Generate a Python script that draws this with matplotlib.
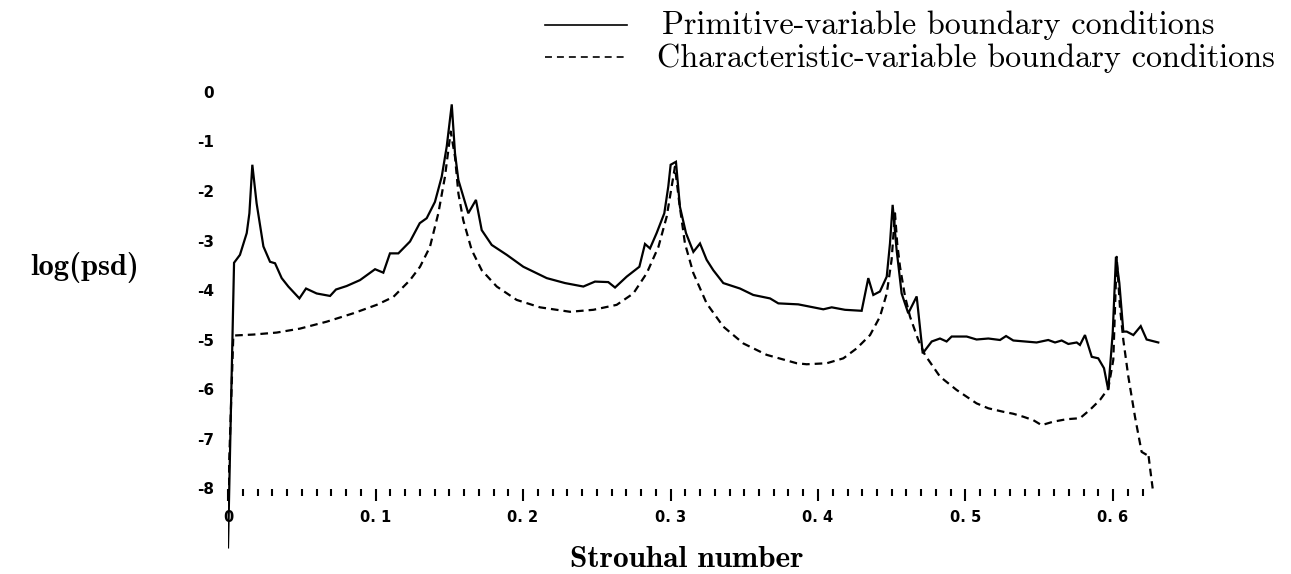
import numpy as np
import matplotlib
matplotlib.use('Agg')
import matplotlib.pyplot as plt

plt.rcParams.update({
    'lines.scale_dashes': False,
    'axes.unicode_minus': False,
})

# Primitive-variable boundary conditions (solid)
prim_x = [0.0, 0.0041, 0.0081, 0.0127, 0.0145, 0.0165, 0.0194, 0.024, 0.0285, 0.0319,
          0.0364, 0.0409, 0.0484, 0.0529, 0.0601, 0.0692, 0.0732, 0.0804, 0.0895, 0.0997,
          0.1053, 0.1098, 0.1155, 0.1234, 0.130, 0.1347, 0.1403, 0.1449, 0.1483, 0.1517,
          0.1539, 0.1562, 0.1595, 0.1629, 0.1681, 0.172, 0.1788, 0.189, 0.2002, 0.2161,
          0.2285, 0.2409, 0.2488, 0.2578, 0.2624, 0.2703, 0.2789, 0.2827, 0.2861, 0.2906,
          0.2958, 0.2985, 0.3001, 0.3037, 0.3064, 0.3105, 0.3155, 0.320, 0.3245, 0.329,
          0.3358, 0.3471, 0.3561, 0.3675, 0.3731, 0.3866, 0.4036, 0.4093, 0.4183, 0.4296,
          0.4341, 0.4375, 0.442, 0.4466, 0.4488, 0.4506, 0.4533, 0.4567, 0.4612, 0.4669,
          0.471, 0.4771, 0.4827, 0.4872, 0.4906, 0.5008, 0.5075, 0.5155, 0.5234, 0.5275,
          0.5324, 0.5482, 0.5561, 0.5607, 0.5652, 0.5697, 0.5754, 0.5776, 0.581, 0.5856,
          0.590, 0.5939, 0.5968, 0.5998, 0.602, 0.6043, 0.607, 0.6093, 0.6138, 0.6188,
          0.6228, 0.6307]
prim_y = [-9.2, -3.45, -3.29, -2.85, -2.45, -1.47, -2.25, -3.12, -3.43, -3.46,
          -3.76, -3.93, -4.17, -3.97, -4.07, -4.12, -3.99, -3.92, -3.80, -3.58,
          -3.65, -3.26, -3.26, -3.02, -2.65, -2.55, -2.22, -1.71, -1.10, -0.25,
          -1.24, -1.78, -2.11, -2.45, -2.18, -2.79, -3.09, -3.29, -3.53, -3.76,
          -3.86, -3.93, -3.83, -3.84, -3.95, -3.73, -3.53, -3.07, -3.16, -2.85,
          -2.45, -1.91, -1.47, -1.41, -2.32, -2.85, -3.23, -3.06, -3.39, -3.60,
          -3.86, -3.97, -4.10, -4.17, -4.27, -4.29, -4.39, -4.35, -4.40, -4.42,
          -3.76, -4.10, -4.03, -3.73, -3.06, -2.28, -3.19, -4.07, -4.47, -4.13,
          -5.28, -5.04, -4.98, -5.04, -4.94, -4.94, -5.00, -4.98, -5.01, -4.93,
          -5.02, -5.06, -5.01, -5.06, -5.02, -5.09, -5.06, -5.11, -4.91, -5.35,
          -5.38, -5.58, -6.02, -4.87, -3.33, -3.86, -4.84, -4.84, -4.91, -4.73,
          -5.00, -5.06]

# Characteristic-variable boundary conditions (dashed)
char_x = [0.0, 0.0036, 0.0172, 0.033, 0.0488, 0.0669, 0.085, 0.1008, 0.1121, 0.1234,
          0.1302, 0.1369, 0.1426, 0.1471, 0.1494, 0.151, 0.1539, 0.1562, 0.1595, 0.1652,
          0.172, 0.1822, 0.1957, 0.2115, 0.2319, 0.2477, 0.2635, 0.2748, 0.2839, 0.2918,
          0.2974, 0.3008, 0.303, 0.306, 0.3098, 0.3155, 0.3245, 0.3358, 0.3494, 0.3652,
          0.3856, 0.3923, 0.4059, 0.4172, 0.4262, 0.4353, 0.442, 0.4466, 0.4499, 0.4522,
          0.4537, 0.4556, 0.459, 0.4624, 0.468, 0.4725, 0.4827, 0.494, 0.5075, 0.5155,
          0.5256, 0.5324, 0.5392, 0.546, 0.5516, 0.5595, 0.5686, 0.5776, 0.5844, 0.5912,
          0.5968, 0.6002, 0.6025, 0.6047, 0.607, 0.6104, 0.6149, 0.6194, 0.6228, 0.6239,
          0.625, 0.6269]
char_y = [-8.2, -4.92, -4.90, -4.86, -4.78, -4.64, -4.47, -4.30, -4.14, -3.80,
          -3.53, -3.13, -2.45, -1.71, -1.17, -0.80, -1.31, -2.05, -2.59, -3.19,
          -3.60, -3.93, -4.20, -4.35, -4.44, -4.40, -4.30, -4.07, -3.66, -3.13,
          -2.52, -1.91, -1.51, -2.25, -3.06, -3.66, -4.27, -4.74, -5.08, -5.31,
          -5.48, -5.50, -5.48, -5.38, -5.18, -4.91, -4.54, -4.07, -3.39, -2.45,
          -3.06, -3.53, -4.13, -4.54, -5.01, -5.31, -5.75, -6.02, -6.29, -6.39,
          -6.46, -6.50, -6.56, -6.63, -6.73, -6.66, -6.61, -6.59, -6.42, -6.22,
          -5.99, -5.41, -3.33, -4.34, -5.01, -5.75, -6.56, -7.27, -7.33, -7.30,
          -7.57, -8.01]

y_ticks = [0, -1, -2, -3, -4, -5, -6, -7, -8]
y_ticklabels = ['0', '-1', '-2', '-3', '-4', '-5', '-6', '-7', '-8']
x_ticks = [0.0, 0.1, 0.2, 0.3, 0.4, 0.5, 0.6]
x_ticklabels = ['0', '0. 1', '0. 2', '0. 3', '0. 4', '0. 5', '0. 6']
x_minor = np.arange(0.01, 0.625, 0.01)

W, H = 1291, 574
fig = plt.figure(figsize=(W / 100, H / 100), dpi=100)
ax = fig.add_axes([228 / W, 0.0377, 958.75 / W, 0.8279])

ax.plot(prim_x, prim_y, color='black', lw=1.6, solid_joinstyle='miter')
ax.plot(char_x, char_y, color='black', lw=1.6, dashes=(5.5, 3.6))

ax.set_xlim(0, 0.65)
ax.set_ylim(-9.3, 0.3)

for s in ['top', 'right', 'left']:
    ax.spines[s].set_visible(False)
ax.spines['bottom'].set_position(('data', -8.03))
ax.spines['bottom'].set_visible(False)

ax.set_xticks(x_ticks)
ax.set_xticklabels(x_ticklabels, fontfamily='DejaVu Sans', fontweight='bold', fontsize=10.5)
ax.set_xticks(x_minor, minor=True)
ax.tick_params(axis='x', which='major', direction='out', length=8.5, width=1.5, pad=6)
ax.tick_params(axis='x', which='minor', direction='out', length=5, width=1.5)

ax.set_yticks(y_ticks)
ax.set_yticklabels(y_ticklabels, fontfamily='DejaVu Sans', fontweight='bold', fontsize=11)
ax.tick_params(axis='y', which='both', length=0, pad=10)

fig.text(85 / W, 1 - 268 / H, 'log(psd)', family='cmb10', fontsize=22,
         ha='center', va='center')
fig.text(687 / W, 1 - 567 / H, 'Strouhal number', family='cmb10', fontsize=22.5,
         ha='center', va='baseline')

# legend drawn by hand to match the original layout
fig.add_artist(plt.Line2D([545 / W, 627 / W], [1 - 25 / H, 1 - 25 / H], color='black', lw=1.2))
fig.add_artist(plt.Line2D([545 / W, 627 / W], [1 - 57 / H, 1 - 57 / H], color='black', lw=1.2,
                          dashes=(5.0, 3.6)))
fig.text(662 / W, 1 - 34 / H, 'Primitive-variable boundary conditions', family='cmr10',
         fontsize=23.2, ha='left', va='baseline')
fig.text(657 / W, 1 - 67 / H, 'Characteristic-variable boundary conditions', family='cmr10',
         fontsize=23.2, ha='left', va='baseline')

fig.savefig('out.png', dpi=100)
